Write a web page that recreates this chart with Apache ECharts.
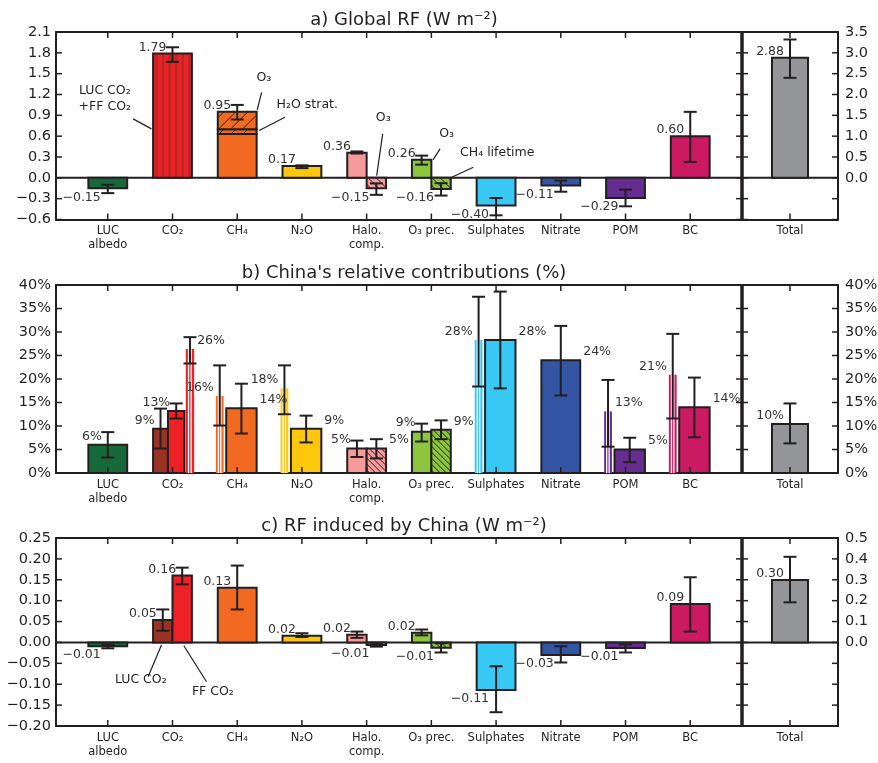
<!DOCTYPE html>
<html><head><meta charset="utf-8">
<script src="https://cdn.jsdelivr.net/npm/echarts@6/dist/echarts.min.js"></script>
<style>html,body{margin:0;padding:0;background:#fff}#c{width:878px;height:763px}</style>
</head><body><div id="c"></div>
<script>
// ---------------- DATA ----------------
const categories = ['LUC\nalbedo','CO₂','CH₄','N₂O','Halo.\ncomp.','O₃ prec.','Sulphates','Nitrate','POM','BC'];
const totalCategory = ['Total'];
const titles = ['a) Global RF (W m⁻²)', "b) China's relative contributions (%)", 'c) RF induced by China (W m⁻²)'];

// a) Global RF (W m-2)
const rfGlobal      = [-0.15, 1.79, 0.95, 0.17, 0.36, 0.26, -0.40, -0.11, -0.29, 0.60];
const rfGlobalLo    = [-0.22, 1.67, 0.84, 0.14, 0.35, 0.19, -0.54, -0.20, -0.41, 0.23];
const rfGlobalHi    = [-0.10, 1.88, 1.05, 0.18, 0.38, 0.32, -0.29, -0.04, -0.17, 0.95];
const rfGlobalCH4Parts = [0.63, 0.07, 0.25];            // CH4, H2O strat., O3
const rfGlobalIndirect   = [null, null, null, null, -0.15, -0.16, null, null, null, null]; // O3 / CH4 lifetime
const rfGlobalIndirectLo = [null, null, null, null, -0.245, -0.255, null, null, null, null];
const rfGlobalIndirectHi = [null, null, null, null, -0.08, -0.077, null, null, null, null];
const rfGlobalTotal = [2.88, 2.40, 3.32];

// b) China's relative contributions (%)
const shareMain     = [6.0, 9.4, 13.8, 9.4, 5.2, 8.8, 28.3, 24.0, 5.0, 14.0];   // CO2 column: LUC CO2
const shareMainLo   = [3.3, 5.2, 8.4, 6.5, 3.4, 6.7, 18.0, 16.5, 2.3, 7.6];
const shareMainHi   = [8.7, 13.7, 19.0, 12.2, 6.9, 10.5, 38.6, 31.3, 7.5, 20.3];
const shareSecond   = [null, 13.2, null, null, 5.2, 9.2, null, null, null, null]; // FF CO2, O3, CH4 lifetime
const shareSecondLo = [null, 11.6, null, null, 3.1, 7.2, null, null, null, null];
const shareSecondHi = [null, 14.8, null, null, 7.2, 11.2, null, null, null, null];
const shareEmission   = [null, 26.4, 16.4, 18.0, null, null, 28.3, null, 13.1, 20.9];
const shareEmissionLo = [null, 23.3, 10.1, 12.5, null, null, 18.4, null, 5.6, 11.6];
const shareEmissionHi = [null, 28.9, 22.9, 22.9, null, null, 37.5, null, 19.8, 29.6];
const shareTotal = [10.4, 6.3, 14.8];

// c) RF induced by China (W m-2)
const rfChina     = [-0.009, 0.054, 0.131, 0.016, 0.0185, 0.023, -0.114, -0.030, -0.013, 0.092]; // CO2 column: LUC CO2
const rfChinaLo   = [-0.014, 0.028, 0.079, 0.013, 0.011, 0.017, -0.167, -0.048, -0.024, 0.026];
const rfChinaHi   = [-0.005, 0.079, 0.184, 0.022, 0.026, 0.031, -0.057, -0.009, -0.005, 0.156];
const rfChinaSecond   = [null, 0.160, null, null, -0.006, -0.0127, null, null, null, null];
const rfChinaSecondLo = [null, 0.139, null, null, -0.010, -0.024, null, null, null, null];
const rfChinaSecondHi = [null, 0.179, null, null, -0.001, -0.002, null, null, null, null];
const rfChinaTotal = [0.299, 0.192, 0.41];

// ---------------- STYLE / LAYOUT ----------------
const INK = '#231f20';
const FONT = 'DejaVu Sans';
const catColors = ['#17693a','#ee2127','#f26a22','#fdc70e','#f59b9b','#8cc63f','#38c8f4','#3454a4','#662d91','#cc1a62'];
const lucCO2Color = '#9a3324';
const totalColor = '#939598';
const stripeColor = '#b02a26';
const SPAN = {full:[-0.3,0.3], left:[-0.3,0], right:[0,0.3],
  lucCO2:[-0.30,-0.07], ffCO2:[-0.07,0.185], ffEmis:[0.205,0.335],
  emis:[-0.33,-0.21], narrow:[-0.17,0.30], total:[-0.375,0.375]};
const shareMainSide     = ['l','l','r','r','l','l','r','r','r','r'];
const shareSecondSide   = [null,'l',null,null,'r','r',null,null,null,null];
const shareEmissionSide = [null,'r','l','l',null,null,'l',null,'r','l'];

const PANELS = [
  {top:32, height:187.5, yMin:-0.6, yMax:2.1, yStep:0.3, yFmt:v=>fmtNum(v,1),
   tMin:-1, tMax:3.5, tStep:0.5, tFmt:v=>v>=-1e-9?fmtNum(Math.abs(v),1):'', labelDy:6, zero:true},
  {top:285, height:188, yMin:0, yMax:40, yStep:5, yFmt:v=>v+'%',
   tMin:0, tMax:40, tStep:5, tFmt:v=>v+'%', labelDy:8.5, zero:false},
  {top:538, height:188, yMin:-0.2, yMax:0.25, yStep:0.05, yFmt:v=>fmtNum(v,2),
   tMin:-0.4, tMax:0.5, tStep:0.1, tFmt:v=>v>=-1e-9?fmtNum(Math.abs(v),1):'', labelDy:6, zero:true}
];
const MAIN_LEFT = 56, MAIN_RIGHT = 742, TOT_RIGHT = 838;
const X_MAIN = [-0.8, 9.8], X_TOT = [-1, 1];
const CAT_IDX = [0,1,2,3,4,5,6,7,8,9];
const TICK_LEN = 6;

function fmtNum(v, d){ const s = Math.abs(v).toFixed(d); return (v < -1e-9 ? '−' : '') + s; }
const fmtRF = v => fmtNum(v, 2);
const fmtPct = v => Math.round(v) + '%';

// ---------------- MARKS ----------------
function bar(i, span, y, lo, hi, fill, opts) {
  return Object.assign({x0:i+span[0], x1:i+span[1], y0:0, y1:y, value:y, fill:fill,
    err:(lo==null?null:[lo,hi]), outline:true, side:'l'}, opts||{});
}
function panelA() {
  const m = [{kind:'zero', xa:X_MAIN[0], xb:X_MAIN[1]}];
  for (let i=0;i<10;i++){
    if (i===2){
      let base=0;
      rfGlobalCH4Parts.forEach((p,k)=>{
        const isTop = k===rfGlobalCH4Parts.length-1;
        m.push({x0:i-0.3,x1:i+0.3,y0:base,y1:base+p,value:rfGlobal[i],fill:catColors[i],outline:true,
          pattern:k>0?{dir:'/',step:12}:null, err:isTop?[rfGlobalLo[i],rfGlobalHi[i]]:null,
          label:isTop?fmtRF(rfGlobal[i]):null, side:'l'});
        base+=p;
      });
      continue;
    }
    const split = rfGlobalIndirect[i]!=null;
    m.push(bar(i, split?SPAN.left:SPAN.full, rfGlobal[i], rfGlobalLo[i], rfGlobalHi[i], catColors[i],
      {label:fmtRF(rfGlobal[i]), pattern: i===1?{stripes:true}:null}));
    if (split) m.push(bar(i, SPAN.right, rfGlobalIndirect[i], rfGlobalIndirectLo[i], rfGlobalIndirectHi[i], catColors[i],
      {label:fmtRF(rfGlobalIndirect[i]), pattern:{dir:'\\',step:8}}));
  }
  notes(m, [
    {text:'LUC CO₂\n+FF CO₂', at:[-0.046,1.14], align:'center', line:[0.391,0.849,0.676,0.705]},
    {text:'O₃', at:[2.412,1.44], align:'center', line:[2.377,1.232,2.309,0.978]},
    {text:'H₂O strat.', at:[2.609,1.050], align:'left', line:[2.737,0.872,2.34,0.681]},
    {text:'O₃', at:[4.257,0.863], align:'center', line:[4.248,0.633,4.155,0.033]},
    {text:'O₃', at:[5.237,0.633], align:'center', line:[5.134,0.417,5.026,0.259]},
    {text:'CH₄ lifetime', at:[5.443,0.368], align:'left', line:[5.649,0.153,5.315,0.009]}
  ]);
  return m;
}
function panelB() {
  const m = [];
  for (let i=0;i<10;i++){
    if (i===1){
      m.push(bar(i, SPAN.lucCO2, shareMain[i], shareMainLo[i], shareMainHi[i], lucCO2Color, {label:fmtPct(shareMain[i]), side:shareMainSide[i]}));
      m.push(bar(i, SPAN.ffCO2, shareSecond[i], shareSecondLo[i], shareSecondHi[i], catColors[i], {label:fmtPct(shareSecond[i]), side:shareSecondSide[i]}));
      m.push(bar(i, SPAN.ffEmis, shareEmission[i], shareEmissionLo[i], shareEmissionHi[i], catColors[i], {label:fmtPct(shareEmission[i]), side:shareEmissionSide[i], outline:false, pattern:{white:true}}));
    } else if (shareEmission[i]!=null){
      m.push(bar(i, SPAN.emis, shareEmission[i], shareEmissionLo[i], shareEmissionHi[i], catColors[i], {label:fmtPct(shareEmission[i]), side:shareEmissionSide[i], outline:false, pattern:{white:true}}));
      m.push(bar(i, SPAN.narrow, shareMain[i], shareMainLo[i], shareMainHi[i], catColors[i], {label:fmtPct(shareMain[i]), side:shareMainSide[i]}));
    } else if (shareSecond[i]!=null){
      m.push(bar(i, SPAN.left, shareMain[i], shareMainLo[i], shareMainHi[i], catColors[i], {label:fmtPct(shareMain[i]), side:shareMainSide[i]}));
      m.push(bar(i, SPAN.right, shareSecond[i], shareSecondLo[i], shareSecondHi[i], catColors[i], {label:fmtPct(shareSecond[i]), side:shareSecondSide[i], pattern:{dir:'\\',step:6}}));
    } else {
      m.push(bar(i, SPAN.full, shareMain[i], shareMainLo[i], shareMainHi[i], catColors[i], {label:fmtPct(shareMain[i]), side:shareMainSide[i]}));
    }
  }
  return m;
}
function panelC() {
  const m = [{kind:'zero', xa:X_MAIN[0], xb:X_MAIN[1]}];
  for (let i=0;i<10;i++){
    const split = rfChinaSecond[i]!=null;
    m.push(bar(i, split?SPAN.left:SPAN.full, rfChina[i], rfChinaLo[i], rfChinaHi[i], i===1?lucCO2Color:catColors[i], {label:fmtRF(rfChina[i])}));
    if (split) m.push(bar(i, SPAN.right, rfChinaSecond[i], rfChinaSecondLo[i], rfChinaSecondHi[i], catColors[i],
      {label:fmtRF(rfChinaSecond[i]), pattern: i===1?null:{dir:'\\',step:6}}));
  }
  notes(m, [
    {text:'LUC CO₂', at:[0.510,-0.090], align:'center', line:[0.830,-0.006,0.623,-0.082]},
    {text:'FF CO₂', at:[1.624,-0.118], align:'center', line:[1.175,-0.008,1.526,-0.094]}
  ]);
  return m;
}
function notes(m, list){ list.forEach(n=>m.push(Object.assign({kind:'note'}, n))); }
function totalMarks(p, tot, fmt){
  const m = [];
  if (p.zero) m.push({kind:'zero', xa:X_TOT[0], xb:X_TOT[1]});
  m.push(bar(0, SPAN.total, tot[0], tot[1], tot[2], totalColor, {label:fmt(tot[0])}));
  return m;
}
// inward tick marks on all four sides of a frame
function tickMark(xr, yr, xs, leftScale, rightScale){
  return {kind:'ticks', xa:xr[0], xb:xr[1], ya:yr[0], yb:yr[1], xs, left:leftScale, right:rightScale};
}

// ---------------- RENDER ----------------
function hatchLines(x,y,w,h,dir,step){
  const out=[];
  const seg=(x1,y1,x2,y2)=>({type:'line',shape:{x1,y1,x2,y2},style:{stroke:INK,lineWidth:1}});
  if (dir==='/'){
    for (let c=x+y+step/2; c<x+w+y+h; c+=step){
      const xa=Math.max(x,c-y-h), xb=Math.min(x+w,c-y);
      if (xb>xa) out.push(seg(xa,c-xa,xb,c-xb));
    }
  } else {
    for (let c=x-(y+h)+step/2; c<x+w-y; c+=step){
      const xa=Math.max(x,c+y), xb=Math.min(x+w,c+y+h);
      if (xb>xa) out.push(seg(xa,xa-c,xb,xb-c));
    }
  }
  return out;
}
function txt(text,x,y,align,size){
  return {type:'text', z2:20, style:{text, x, y, fill:'#333', font:size+'px "'+FONT+'"',
    align, verticalAlign:'middle', textAlign:align, textVerticalAlign:'middle', lineHeight:15.5}};
}
function scaleVals(s){ const n=Math.round((s[1]-s[0])/s[2]); const out=[]; for(let k=0;k<=n;k++) out.push(s[0]+k*s[2]); return out; }
function makeRender(marks, panel){
  return function(params, api){
    const m = marks[params.dataIndex];
    if (m.kind==='zero'){
      const a=api.coord([m.xa,0]), b=api.coord([m.xb,0]);
      return {type:'line', shape:{x1:a[0],y1:a[1],x2:b[0],y2:b[1]}, style:{stroke:INK,lineWidth:2}};
    }
    if (m.kind==='ticks'){
      const L=TICK_LEN, ch=[];
      const bl=api.coord([m.xa,m.ya]), tr=api.coord([m.xb,m.yb]);
      const seg=(x1,y1,x2,y2)=>ch.push({type:'line',z2:30,shape:{x1,y1,x2,y2},style:{stroke:INK,lineWidth:1.5}});
      m.xs.forEach(v=>{ const px=api.coord([v,m.ya])[0]; seg(px,bl[1],px,bl[1]-L); seg(px,tr[1],px,tr[1]+L); });
      const ypix=(s,v)=>bl[1]+(v-s[0])/(s[1]-s[0])*(tr[1]-bl[1]);
      scaleVals(m.left).forEach(v=>{ const py=ypix(m.left,v); seg(bl[0],py,bl[0]+L,py); });
      scaleVals(m.right).forEach(v=>{ const py=ypix(m.right,v); seg(tr[0],py,tr[0]-L,py); });
      return {type:'group', children:ch};
    }
    if (m.kind==='note'){
      const t=api.coord(m.at), l1=api.coord([m.line[0],m.line[1]]), l2=api.coord([m.line[2],m.line[3]]);
      const t0 = txt(m.text, t[0], t[1], m.align, 12.5); t0.style.fill = INK;
      return {type:'group', children:[
        {type:'line', shape:{x1:l1[0],y1:l1[1],x2:l2[0],y2:l2[1]}, style:{stroke:INK,lineWidth:1.2}}, t0]};
    }
    const pA=api.coord([m.x0,m.y0]), pB=api.coord([m.x1,m.y1]);
    const x=Math.min(pA[0],pB[0]), w=Math.abs(pB[0]-pA[0]);
    const y=Math.min(pA[1],pB[1]), h=Math.abs(pB[1]-pA[1]);
    const ch=[{type:'rect', shape:{x,y,width:w,height:h}, style:{fill:m.fill}}];
    const pt=m.pattern;
    if (pt){
      if (pt.stripes){
        for (let sx=x+2.2; sx<x+w-1.5; sx+=6.6) ch.push({type:'rect',shape:{x:sx,y,width:2.2,height:h},style:{fill:stripeColor}});
      } else if (pt.white){
        [0.33,0.64].forEach(f=>ch.push({type:'line',shape:{x1:x+w*f,y1:y,x2:x+w*f,y2:y+h},style:{stroke:'#fff',lineWidth:1.3}}));
      } else if (pt.dir){
        hatchLines(x,y,w,h,pt.dir,pt.step).forEach(s=>ch.push(s));
      }
    }
    if (m.outline) ch.push({type:'rect', shape:{x,y,width:w,height:h}, style:{fill:'none',stroke:INK,lineWidth:2}});
    const cx = x+w/2;
    if (m.err){
      const lo=api.coord([m.x0,m.err[0]])[1], hi=api.coord([m.x0,m.err[1]])[1];
      ch.push({type:'line',z2:10,shape:{x1:cx,y1:lo,x2:cx,y2:hi},style:{stroke:INK,lineWidth:2}});
      ch.push({type:'line',z2:10,shape:{x1:cx-6.5,y1:lo,x2:cx+6.5,y2:lo},style:{stroke:INK,lineWidth:2}});
      ch.push({type:'line',z2:10,shape:{x1:cx-6.5,y1:hi,x2:cx+6.5,y2:hi},style:{stroke:INK,lineWidth:2}});
    }
    if (m.label){
      if (m.value>=0){
        const ty=y-panel.labelDy;
        if (m.side==='r') ch.push(txt(m.label, x+w+3, ty, 'left', 12.5));
        else ch.push(txt(m.label, cx-6, ty, 'right', 12.5));
      } else {
        ch.push(txt(m.label, cx-7, y+h+9, 'right', 12.5));
      }
    }
    return {type:'group', children:ch};
  };
}
function seriesData(marks){
  return marks.map(d=>d.kind==='note'?[d.at[0],d.at[1]]:(d.kind==='zero'||d.kind==='ticks')?[d.xa,0]:[(d.x0+d.x1)/2,d.y1]);
}

// ---------------- OPTION ----------------
const chart = echarts.init(document.getElementById('c'), null, {renderer:'canvas'});
const grid=[], xAxis=[], yAxis=[], series=[], title=[], graphics=[];
const mkLine = () => ({show:true, onZero:false, lineStyle:{color:INK, width:2}});
const noTick = () => ({show:false});
const lblStyle = {color:INK, fontFamily:FONT};
const mainMarks = [panelA(), panelB(), panelC()];
const totals = [[rfGlobalTotal, fmtRF],[shareTotal, fmtPct],[rfChinaTotal, fmtRF]];

PANELS.forEach((p, k)=>{
  grid.push({left:MAIN_LEFT, width:MAIN_RIGHT-MAIN_LEFT, top:p.top, height:p.height, show:false, containLabel:false, outerBoundsMode:'none'});
  grid.push({left:MAIN_RIGHT, width:TOT_RIGHT-MAIN_RIGHT, top:p.top, height:p.height, show:false, containLabel:false, outerBoundsMode:'none'});
  const g0=2*k, g1=2*k+1;
  xAxis.push({gridIndex:g0, type:'value', position:'bottom', min:X_MAIN[0], max:X_MAIN[1],
    axisLine:mkLine(), splitLine:{show:false}, axisTick:noTick(),
    axisLabel:Object.assign({customValues:CAT_IDX, formatter:v=>categories[Math.round(v)], fontSize:11.5, lineHeight:14, margin:5}, lblStyle)});
  xAxis.push({gridIndex:g0, type:'value', position:'top', min:X_MAIN[0], max:X_MAIN[1],
    axisLine:mkLine(), splitLine:{show:false}, axisTick:noTick(), axisLabel:{show:false}});
  xAxis.push({gridIndex:g1, type:'value', position:'bottom', min:X_TOT[0], max:X_TOT[1],
    axisLine:mkLine(), splitLine:{show:false}, axisTick:noTick(),
    axisLabel:Object.assign({customValues:[0], formatter:()=>totalCategory[0], fontSize:11.5, lineHeight:14, margin:5}, lblStyle)});
  xAxis.push({gridIndex:g1, type:'value', position:'top', min:X_TOT[0], max:X_TOT[1],
    axisLine:mkLine(), splitLine:{show:false}, axisTick:noTick(), axisLabel:{show:false}});

  yAxis.push({gridIndex:g0, type:'value', position:'left', min:p.yMin, max:p.yMax, interval:p.yStep,
    axisLine:mkLine(), splitLine:{show:false}, axisTick:noTick(),
    axisLabel:Object.assign({formatter:p.yFmt, fontSize:14.5, margin:5, showMinLabel:true, showMaxLabel:true}, lblStyle)});
  yAxis.push({gridIndex:g0, type:'value', position:'right', min:p.tMin, max:p.tMax, interval:p.tStep,
    axisLine:mkLine(), splitLine:{show:false}, axisTick:noTick(), axisLabel:{show:false}});
  yAxis.push({gridIndex:g1, type:'value', position:'left', min:p.tMin, max:p.tMax, interval:p.tStep,
    axisLine:mkLine(), splitLine:{show:false}, axisTick:noTick(), axisLabel:{show:false}});
  yAxis.push({gridIndex:g1, type:'value', position:'right', min:p.tMin, max:p.tMax, interval:p.tStep,
    axisLine:mkLine(), splitLine:{show:false}, axisTick:noTick(),
    axisLabel:Object.assign({formatter:p.tFmt, fontSize:14.5, margin:7, showMinLabel:true, showMaxLabel:true}, lblStyle)});

  const yS=[p.yMin,p.yMax,p.yStep], tS=[p.tMin,p.tMax,p.tStep];
  const mm = mainMarks[k].concat([tickMark(X_MAIN, [p.yMin,p.yMax], CAT_IDX, yS, tS)]);
  series.push({type:'custom', xAxisIndex:4*k, yAxisIndex:4*k, renderItem:makeRender(mm,p), z:3, clip:false, data:seriesData(mm)});
  const tm = totalMarks(p, totals[k][0], totals[k][1]).concat([tickMark(X_TOT, [p.tMin,p.tMax], [0], tS, tS)]);
  series.push({type:'custom', xAxisIndex:4*k+2, yAxisIndex:4*k+3, renderItem:makeRender(tm,p), z:3, clip:false, data:seriesData(tm)});

  title.push({text:titles[k], left:(MAIN_LEFT+MAIN_RIGHT)/2, textAlign:'center', top:p.top-26,
    textStyle:{fontFamily:FONT, fontSize:18, fontWeight:'normal', color:INK}});
  graphics.push({type:'rect', z:100, shape:{x:MAIN_RIGHT-1.75, y:p.top-1, width:3.5, height:p.height+2}, style:{fill:INK}});
});

chart.setOption({animation:false, backgroundColor:'#fff', title, grid, xAxis, yAxis, series, graphic:{elements:graphics}});
</script></body></html>
